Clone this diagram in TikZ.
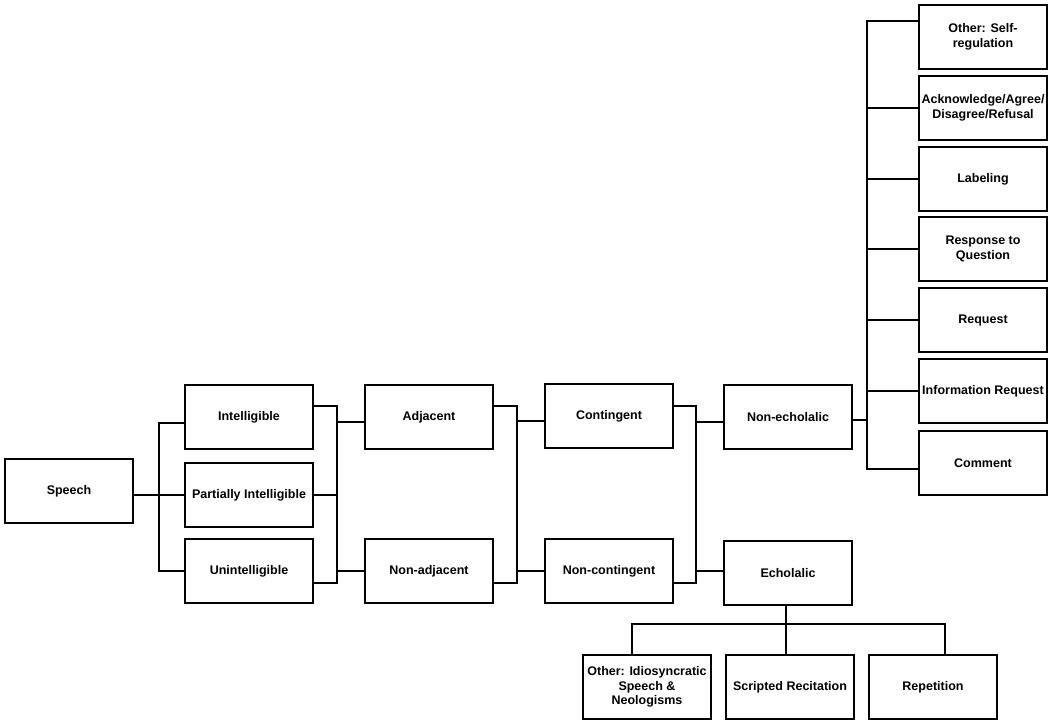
\documentclass[tikz,border=0pt]{standalone}
\usepackage{fontspec}
\setmainfont{Liberation Sans}
\begin{document}
\begin{tikzpicture}[x=1pt,y=-1pt,
  box/.style={draw, line width=1.8pt, minimum width=128pt, minimum height=64pt,
    inner sep=0pt, outer sep=0pt, align=center, font=\bfseries\fontsize{12.5}{14.5}\selectfont},
  conn/.style={line width=1.8pt, line join=miter}]
\useasboundingbox (0,0) rectangle (1050,720);
% level 0-1
\node[box] (speech) at (69,491) {Speech};
\node[box] (intel) at (249,417) {Intelligible};
\node[box] (partial) at (249,495) {Partially Intelligible};
\node[box] (unint) at (249,571) {Unintelligible};
% level 2
\node[box] (adj) at (429,417) {Adjacent};
\node[box] (nonadj) at (429,571) {Non-adjacent};
% level 3
\node[box] (cont) at (609,416) {Contingent};
\node[box] (noncont) at (609,571) {Non-contingent};
% level 4
\node[box] (nonecho) at (788,417) {Non-echolalic};
\node[box] (echo) at (788,573) {Echolalic};
% right column
\node[box] (selfreg) at (983,37) {Other: Self-\\regulation};
\node[box] (ack) at (983,108) {Acknowledge/Agree/\\Disagree/Refusal};
\node[box] (label) at (983,179) {Labeling};
\node[box] (resp) at (983,249) {Response to\\Question};
\node[box] (req) at (983,320) {Request};
\node[box] (info) at (983,391) {Information Request};
\node[box] (comment) at (983,463) {Comment};
% bottom row
\node[box] (other) at (647,687) {Other: Idiosyncratic\\Speech \&\\Neologisms};
\node[box] (script) at (790,687) {Scripted Recitation};
\node[box] (rep) at (933,687) {Repetition};

% connectors: speech
\draw[conn] (partial.west) -- (partial.west -| speech.east);
\draw[conn] ([yshift=-6pt]intel.west) -- ++(-26,0) |- (unint.west);
% intelligibility -> adjacency
\draw[conn] ([yshift=11pt]intel.east) -- ++(24,0) |- ([yshift=-12pt]unint.east);
\draw[conn] (partial.east) -- ++(24,0);
\draw[conn] ([yshift=-5pt]adj.west) -- ++(-28,0);
\draw[conn] (nonadj.west) -- ++(-28,0);
% adjacency -> contingency
\draw[conn] ([yshift=11pt]adj.east) -- ++(24,0) |- ([yshift=-12pt]nonadj.east);
\draw[conn] ([yshift=-5pt]cont.west) -- ++(-28,0);
\draw[conn] (noncont.west) -- ++(-28,0);
% contingency -> echolalia
\draw[conn] ([yshift=10pt]cont.east) -- ++(23,0) |- ([yshift=-12pt]noncont.east);
\draw[conn] ([yshift=-5pt]nonecho.west) -- ++(-28,0);
\draw[conn] ([yshift=2pt]echo.west) -- ++(-28,0);
% non-echolalic -> functions
\draw[conn] ([yshift=-3pt]nonecho.east) -- ++(15,0);
\draw[conn] ([yshift=16pt]selfreg.west) -- ++(-52,0) |- ([yshift=-6pt]comment.west);
\draw[conn] (ack.west) -- ++(-52,0);
\draw[conn] (label.west) -- ++(-52,0);
\draw[conn] (resp.west) -- ++(-52,0);
\draw[conn] (req.west) -- ++(-52,0);
\draw[conn] (info.west) -- ++(-52,0);
% echolalic -> types
\draw[conn] ([xshift=-2pt]echo.south) -- ([xshift=-2pt]echo.south |- script.north);
\draw[conn] ([xshift=-15pt]other.north) -- ++(0,-31) -| ([xshift=12pt]rep.north);
\end{tikzpicture}
\end{document}
